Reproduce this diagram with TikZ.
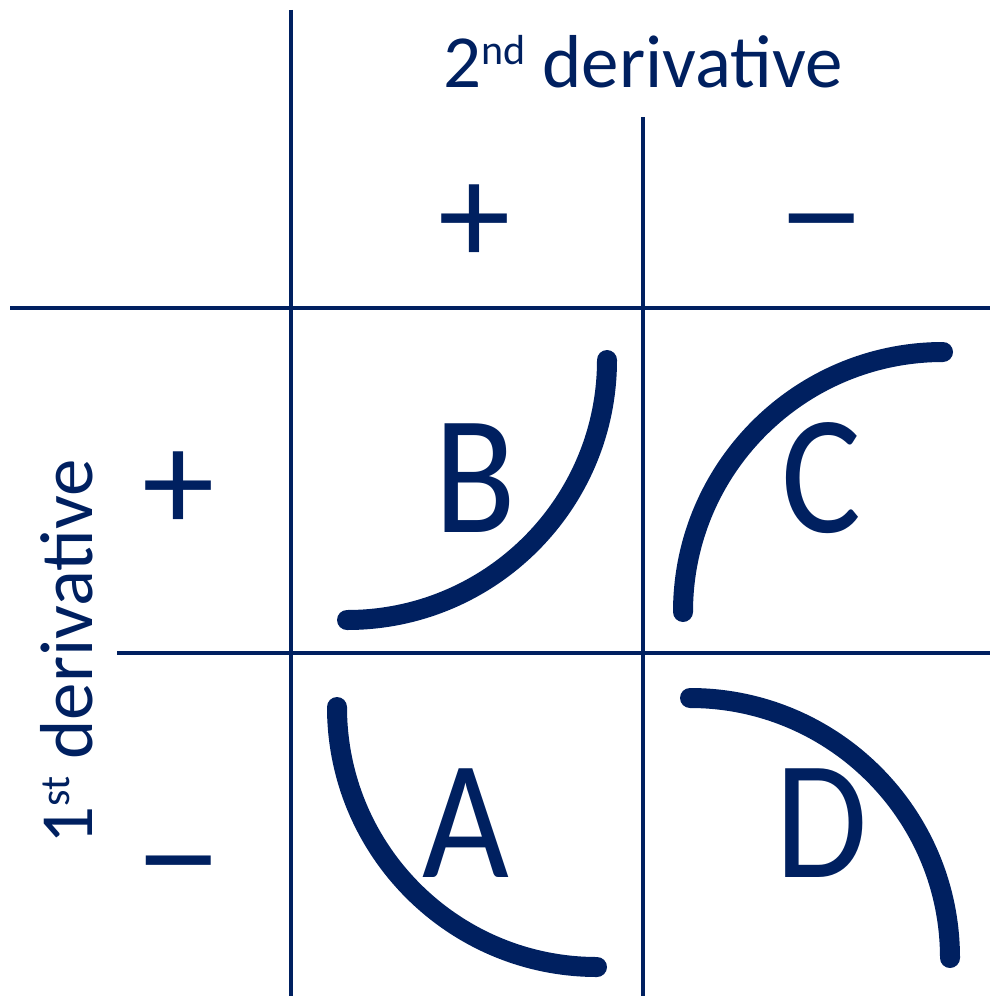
\documentclass[tikz,border=0pt]{standalone}
\usepackage{fontspec}
\setmainfont{Carlito}
\usepackage{xcolor}
\usepackage{tikz}
\definecolor{navy}{RGB}{0,32,96}
\tikzset{
  grid line/.style={navy, line width=4pt},
  curve/.style={navy, line width=20pt, line cap=round},
  head/.style={navy, inner sep=0pt, anchor=base, font=\fontsize{75}{75}\selectfont},
  sign/.style={navy, inner sep=0pt, text height=92.6pt, text depth=0pt,
    font=\fontsize{145}{145}\selectfont},
  letter/.style={navy, inner sep=0pt, anchor=base, font=\fontsize{150}{150}\selectfont}
}
\newcommand{\bigminus}{\scalebox{1.2}[1]{−}}
\newcommand{\tallletter}[1]{\scalebox{1}[1.13]{#1}}
\newcommand{\ordsup}[1]{\raisebox{23pt}{\fontsize{42}{42}\selectfont #1}}

\begin{document}
\begin{tikzpicture}[x=1pt,y=-1pt]
\useasboundingbox (0,0) rectangle (990,998);

\draw[grid line] (291,10) -- (291,996);
\draw[grid line] (643,117) -- (643,996);
\draw[grid line] (10,308) -- (990,308);
\draw[grid line] (117,653) -- (990,653);

\node[head] (top) at (643,88) {2\ordsup{nd} derivative};
\node[head, rotate=90] (side) at (92,652) {1\ordsup{st} derivative};

\node[sign] (pp) at (475,218) {+};
\node[sign] (pm) at (822,218) {\bigminus};
\node[sign] (fp) at (179,485) {+};
\node[sign] (fm) at (179,860) {\bigminus};

\node[letter] (B) at (475,532) {\tallletter{B}};
\node[letter] (C) at (821,532) {\tallletter{C}};
\node[letter] (A) at (466,877) {\tallletter{A}};
\node[letter] (D) at (822,877) {\tallletter{D}};

\draw[curve] (347,620) arc[start angle=90, end angle=0, radius=260];
\draw[curve] (683,612) arc[start angle=180, end angle=270, radius=260];
\draw[curve] (337,707) arc[start angle=180, end angle=90, radius=260];
\draw[curve] (690,698) arc[start angle=270, end angle=360, radius=260];
\end{tikzpicture}
\end{document}
